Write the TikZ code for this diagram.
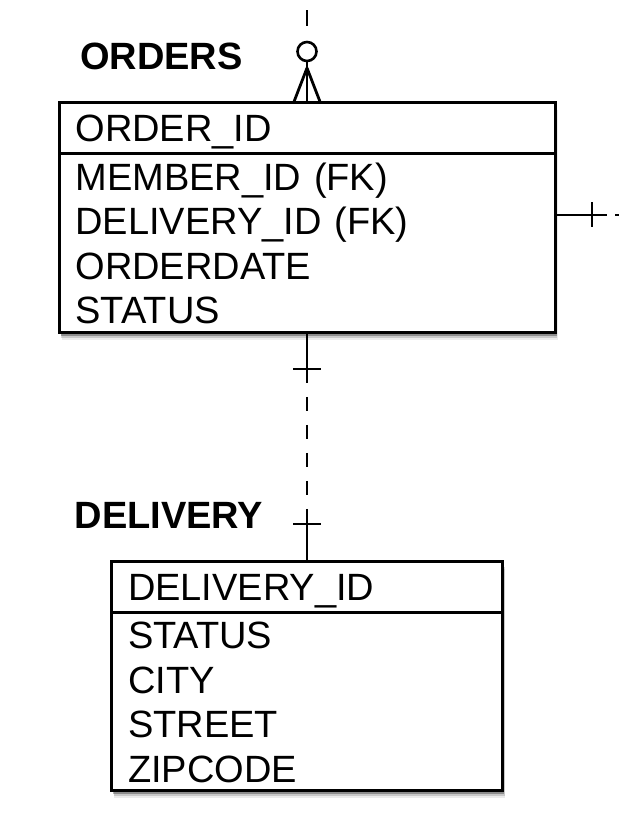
\documentclass[tikz,border=0pt]{standalone}
\usepackage{fontspec}
\setmainfont{Liberation Sans}
\usetikzlibrary{positioning, shadows, calc}

\begin{document}
\begin{tikzpicture}[
    x=1pt, y=1pt,
    erbox/.style={draw=black, line width=3pt, rectangle, fill=white, outer sep=0pt, inner xsep=16.5pt, inner ysep=0pt, align=left, font=\fontsize{38}{44.5}\selectfont, text height=27.2pt,
        general shadow={shadow xshift=2.5pt, shadow yshift=-7pt, fill=black, opacity=.08},
        general shadow={shadow xshift=2pt, shadow yshift=-5pt, fill=black, opacity=.15},
        general shadow={shadow xshift=1.5pt, shadow yshift=-3pt, fill=black, opacity=.3}},
    erhead/.style={erbox, text depth=0pt},
    erbody/.style={erbox, text depth=133.5pt},
    entitytitle/.style={font=\fontsize{38}{44}\selectfont\bfseries, inner sep=0pt, anchor=base west},
    rel/.style={line width=2.8pt},
    optcircle/.style={draw=black, line width=2.6pt, circle, minimum size=19pt, inner sep=0pt, outer sep=0pt, fill=white}
]
\useasboundingbox (0,0) rectangle (618,826);

% Knoten
\node[erhead, minimum width=496pt, minimum height=50.5pt, text width=463pt] (ordershead) at (307,697.75) {ORDER\_ID};
\node[erbody, minimum width=496pt, minimum height=179.5pt, text width=463pt, below=0pt of ordershead] (ordersbody) {MEMBER\_ID (FK)\\DELIVERY\_ID (FK)\\ORDERDATE\\STATUS};
\node[entitytitle] (orderstitle) at (80,756) {ORDERS};

\node[erhead, minimum width=391pt, minimum height=50.5pt, text width=358pt] (deliveryhead) at (307,238.75) {DELIVERY\_ID};
\node[erbody, minimum width=391pt, minimum height=178.5pt, text width=358pt, below=0pt of deliveryhead] (deliverybody) {STATUS\\CITY\\STREET\\ZIPCODE};
\node[entitytitle] (deliverytitle) at (74.5,297) {DELIVERY};

\node[optcircle, above=42pt of ordershead.north] (ordcircle) {};

% Verbindung nach oben (null oder viele)
\coordinate (crowapex) at ([yshift=-7pt]ordcircle.south);
\coordinate (topend) at ([yshift=42pt]ordcircle.north);
\draw[rel, dash pattern=on 16pt off 16pt, dash phase=16pt] (ordcircle.north) -- (topend);
\draw[rel] (ordcircle.south) -- (ordershead.north);
\draw[rel] (crowapex) -- ([xshift=-13.5pt]ordershead.north);
\draw[rel] (crowapex) -- ([xshift=13.5pt]ordershead.north);

% Verbindung nach rechts (MEMBER)
\coordinate (memstart) at ([yshift=-61.5pt]ordersbody.north east);
\coordinate (memend) at ([xshift=52pt]memstart);
\coordinate (memout) at ([xshift=20pt]memend);
\draw[rel] (memstart) -- (memend);
\draw[rel] ([xshift=37pt,yshift=12.5pt]memstart) -- ++(0,-25);
\draw[rel, dash pattern=on 14pt off 14pt, dash phase=20pt] (memend) -- (memout);

% Verbindung ORDERS -- DELIVERY
\coordinate (delstart) at ([yshift=-50pt]ordersbody.south);
\coordinate (delend) at ([yshift=42pt]deliveryhead.north);
\draw[rel] (ordersbody.south) -- (delstart);
\draw[rel, dash pattern=on 14pt off 14pt, dash phase=14pt] (delstart) -- (delend);
\draw[rel] (delend) -- (deliveryhead.north);
\draw[rel] ([shift={(-14pt,-36pt)}]ordersbody.south) -- ++(28,0);
\draw[rel] ([shift={(-14pt,38pt)}]deliveryhead.north) -- ++(28,0);

\end{tikzpicture}
\end{document}
